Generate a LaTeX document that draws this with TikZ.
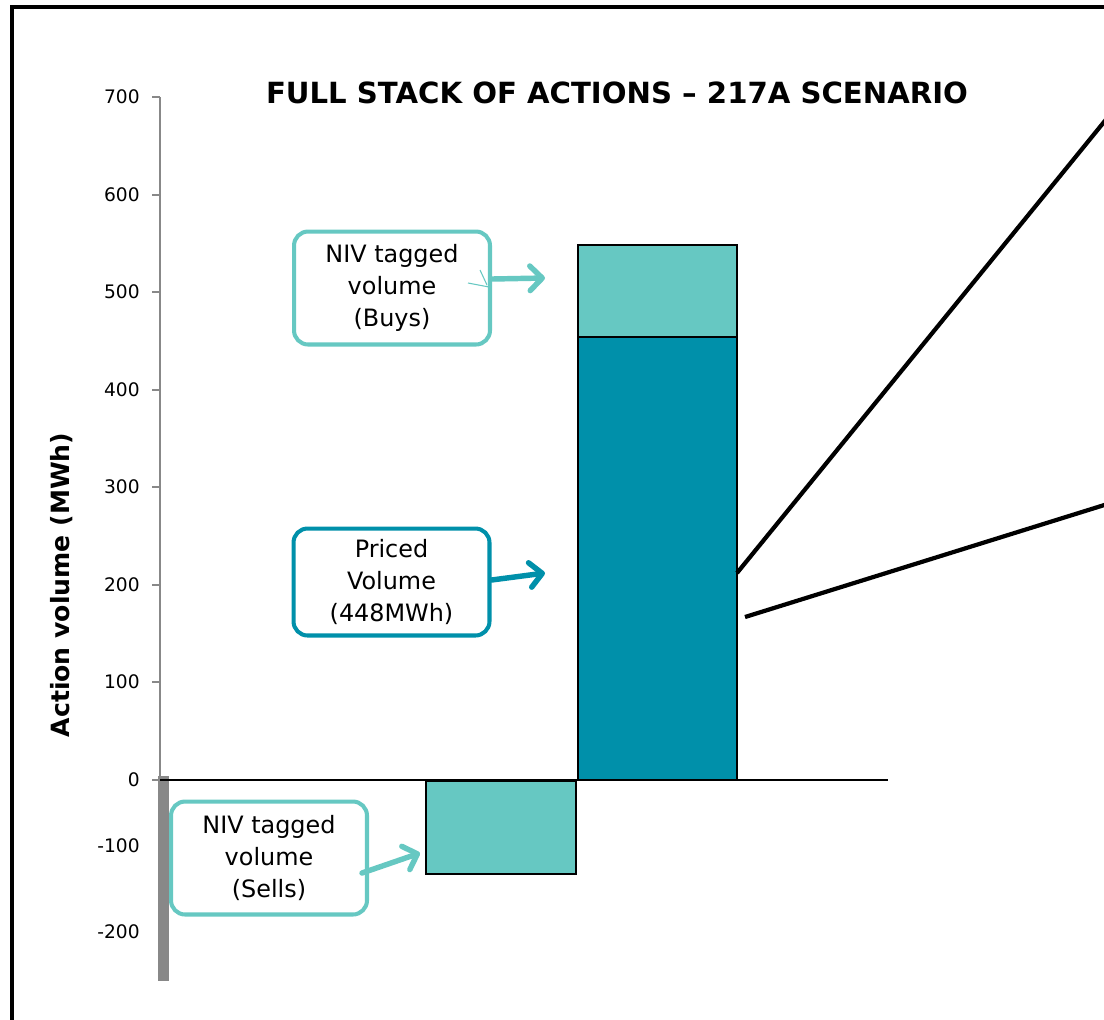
\documentclass[tikz,border=0pt]{standalone}
\usepackage{fontspec}
\setmainfont{DejaVu Sans}
\usetikzlibrary{arrows.meta, positioning}

\definecolor{nivteal}{RGB}{102,200,194}
\definecolor{pricedteal}{RGB}{0,144,170}
\definecolor{axisgrey}{RGB}{136,136,136}

\begin{document}
\begin{tikzpicture}[x=0.02cm, y=-0.02cm,
    callout/.style={draw, line width=2.3pt, rounded corners=8pt, fill=white,
        align=center, font=\fontsize{13.6}{18.1}\selectfont,
        minimum width=3.92cm, minimum height=2.26cm, inner sep=0pt},
    pointer/.style={line width=3.1pt, line cap=round,
        -{Straight Barb[length=7pt, width=14pt, round]}},
    bar/.style={draw=black, line width=0.85pt},
    ticklabel/.style={anchor=east, inner sep=0pt, font=\fontsize{10.6}{12}\selectfont},
    zoomline/.style={line width=2.4pt}]
    \useasboundingbox (0,0) rectangle (1104,1019);
    \clip (0,0) rectangle (1104,1019);

    % frame round the slide
    \draw[line width=2.5pt] (12,7) rectangle (1140,1050);

    % title and axis label
    \node[font=\bfseries\fontsize{16.6}{20}\selectfont] (title) at (617,93)
        {FULL STACK OF ACTIONS -- 217A SCENARIO};
    \node[rotate=90, font=\bfseries\fontsize{14.3}{17}\selectfont] (ylabel) at (62,585)
        {Action volume (MWh)};

    % y axis
    \draw[axisgrey, line width=1.4pt] (160,97) -- (160,780);
    \fill[axisgrey] (158,776) rectangle (169,981);
    \foreach \v/\y in {700/97, 600/195, 500/292, 400/390, 300/487, 200/585, 100/682, 0/780} {
        \draw[axisgrey, line width=1.4pt] (152,\y) -- (160,\y);
        \node[ticklabel] at (140,\y) {\v};
    }
    \node[ticklabel] at (140,846) {-100};
    \node[ticklabel] at (140,932) {-200};

    % bars
    \fill[bar, fill=nivteal] (426,781) rectangle (576,874);
    \fill[bar, fill=pricedteal] (578,337) rectangle (737,780);
    \fill[bar, fill=nivteal] (578,245) rectangle (737,337);
    \draw[line width=0.8pt] (160,780) -- (888,780);

    % lines out to the right
    \coordinate (zoomA) at (737,573);
    \coordinate (zoomB) at (745,617);
    \coordinate (farA) at (1130,90);
    \coordinate (farB) at (1130,497);
    \draw[zoomline] (zoomA) -- (farA);
    \draw[zoomline] (zoomB) -- (farB);

    % callouts
    \node[callout, draw=nivteal] (buys) at (392,288) {NIV tagged\\volume\\(Buys)};
    \node[callout, draw=pricedteal, minimum height=2.14cm] (priced) at (391.5,582)
        {Priced\\Volume\\(448MWh)};
    \node[callout, draw=nivteal] (sells) at (269,858) {NIV tagged\\volume\\(Sells)};

    \coordinate (buystip) at (545,278);
    \coordinate (pricedtip) at (545,573);
    \coordinate (sellstip) at (420,853);
    \draw[pointer, nivteal] (buys.east |- 0,279) -- (buystip);
    \draw[pointer, pricedteal] (priced.east |- 0,580) -- (pricedtip);
    \draw[pointer, nivteal] (362,873) -- (sellstip);
    \draw[nivteal, line width=0.6pt] (468,283) -- (489,287) (480,270) -- (487,285);
\end{tikzpicture}
\end{document}
